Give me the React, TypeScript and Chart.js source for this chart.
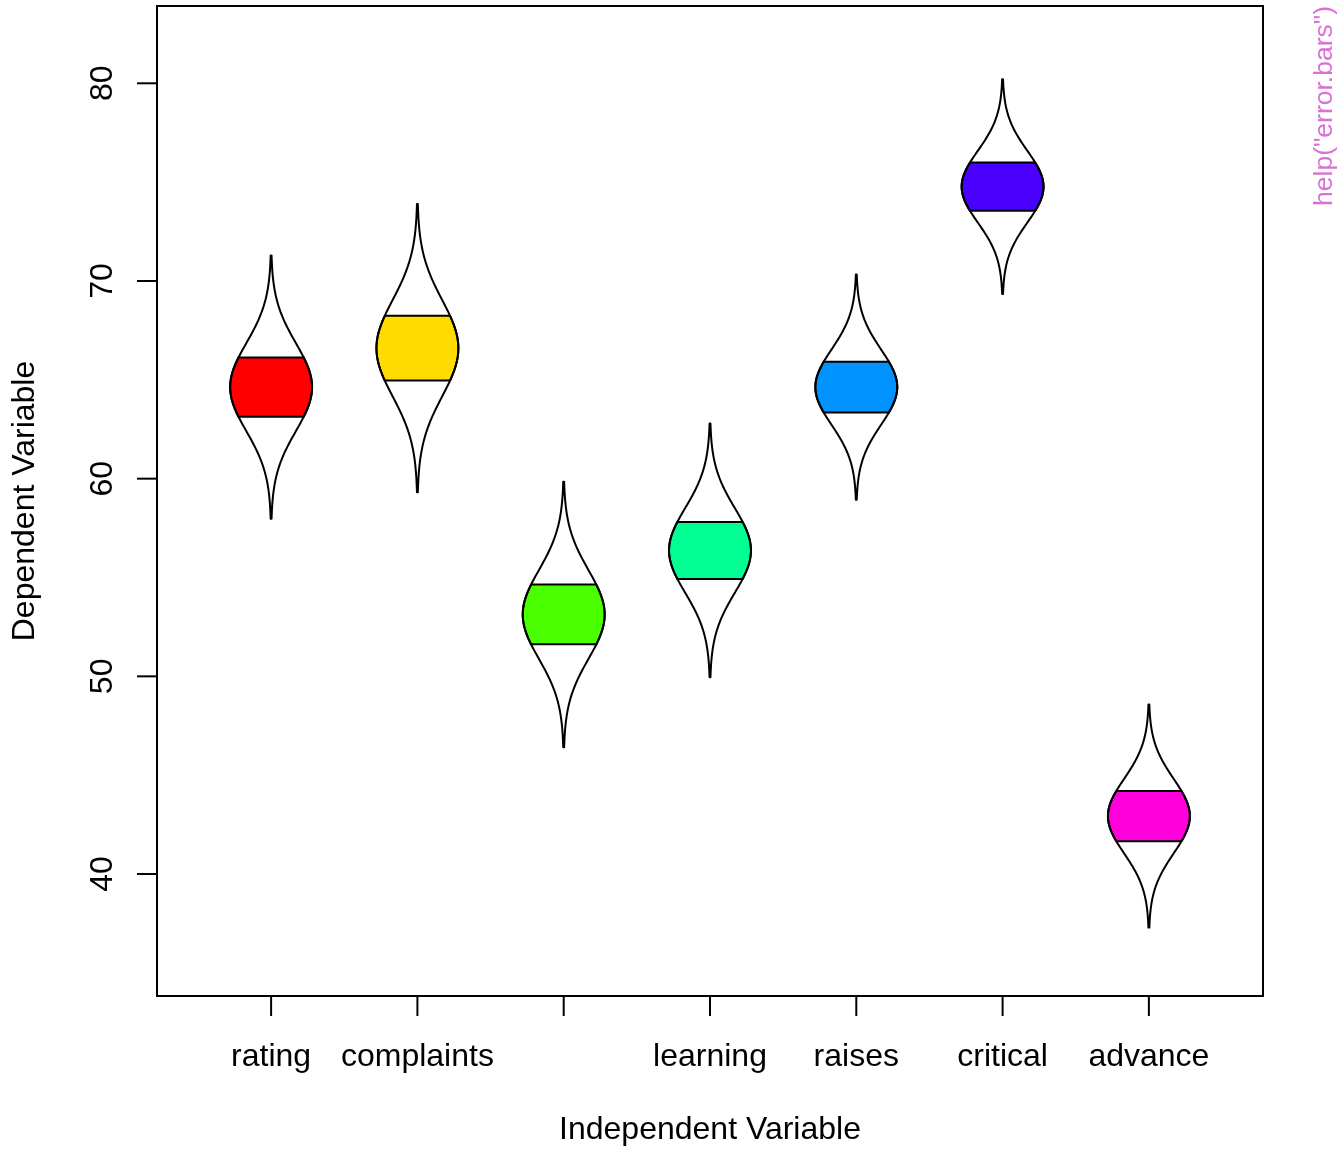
import React, { useEffect, useRef } from "react";
import { Chart, registerables } from "chart.js";

Chart.register(...registerables);

// ---- data ----
const categories = ["rating", "complaints", "privileges", "learning", "raises", "critical", "advance"];
const tickLabels = ["rating", "complaints", "", "learning", "raises", "critical", "advance"];
const means = [64.63, 66.6, 53.13, 56.37, 64.63, 74.77, 42.93];
const standardErrors = [2.22, 2.43, 2.24, 2.14, 1.9, 1.81, 1.88];
const eyeColors = ["#FF0000", "#FFDB00", "#49FF00", "#00FF92", "#0092FF", "#4900FF", "#FF00DB"];
const yTicks = [40, 50, 60, 70, 80];
const xTitle = "Independent Variable";
const yTitle = "Dependent Variable";
const helpText = 'help("error.bars")';

const FONT = '"Liberation Sans", Arial, Helvetica, sans-serif';
const EYE_HALF_WIDTH = 0.28; // x units
const EYE_RANGE = 3; // +/- SE extent of eye
const SHADE_Z = 0.674; // shaded band

const catsEyePlugin = {
  id: "catsEye",
  afterDatasetsDraw(chart: any) {
    const ctx = chart.ctx as CanvasRenderingContext2D;
    const xs = chart.scales.x;
    const ys = chart.scales.y;
    const data = chart.data.datasets[0].data as { x: number; y: number }[];
    ctx.save();
    data.forEach((pt, i) => {
      const se = standardErrors[i];
      const outline = (zmax: number) => {
        const pts: [number, number][] = [];
        const steps = 120;
        for (let k = 0; k <= steps; k++) {
          const z = -zmax + (2 * zmax * k) / steps;
          const w = EYE_HALF_WIDTH * Math.exp((-z * z) / 2);
          pts.push([xs.getPixelForValue(pt.x + w), ys.getPixelForValue(pt.y + z * se)]);
        }
        for (let k = steps; k >= 0; k--) {
          const z = -zmax + (2 * zmax * k) / steps;
          const w = EYE_HALF_WIDTH * Math.exp((-z * z) / 2);
          pts.push([xs.getPixelForValue(pt.x - w), ys.getPixelForValue(pt.y + z * se)]);
        }
        return pts;
      };
      const band = outline(SHADE_Z);
      ctx.beginPath();
      band.forEach(([px, py], j) => (j === 0 ? ctx.moveTo(px, py) : ctx.lineTo(px, py)));
      ctx.closePath();
      ctx.fillStyle = eyeColors[i];
      ctx.fill();
      ctx.lineWidth = 2;
      ctx.strokeStyle = "#000";
      ctx.stroke();
      const eye = outline(EYE_RANGE);
      ctx.beginPath();
      eye.forEach(([px, py], j) => (j === 0 ? ctx.moveTo(px, py) : ctx.lineTo(px, py)));
      ctx.closePath();
      ctx.lineJoin = "round";
      ctx.stroke();
    });
    ctx.restore();
  },
  afterDraw(chart: any) {
    const ctx = chart.ctx as CanvasRenderingContext2D;
    const xs = chart.scales.x;
    const ys = chart.scales.y;
    const a = chart.chartArea;
    ctx.save();
    ctx.strokeStyle = "#000";
    ctx.lineWidth = 2;
    ctx.strokeRect(a.left, a.top, a.right - a.left, a.bottom - a.top);
    ctx.fillStyle = "#000";
    ctx.font = `32px ${FONT}`;
    ctx.textAlign = "center";
    ctx.textBaseline = "alphabetic";
    tickLabels.forEach((lab, i) => {
      const px = xs.getPixelForValue(i + 1);
      ctx.beginPath();
      ctx.moveTo(px, a.bottom);
      ctx.lineTo(px, a.bottom + 20);
      ctx.stroke();
      if (lab) ctx.fillText(lab, px, 1066);
    });
    yTicks.forEach((v) => {
      const py = ys.getPixelForValue(v);
      ctx.beginPath();
      ctx.moveTo(a.left, py);
      ctx.lineTo(a.left - 20, py);
      ctx.stroke();
      ctx.save();
      ctx.translate(112, py);
      ctx.rotate(-Math.PI / 2);
      ctx.fillText(String(v), 0, 0);
      ctx.restore();
    });
    ctx.fillText(xTitle, (a.left + a.right) / 2, 1139);
    ctx.save();
    ctx.translate(34, (a.top + a.bottom) / 2);
    ctx.rotate(-Math.PI / 2);
    ctx.fillText(yTitle, 0, 0);
    ctx.restore();
    ctx.save();
    ctx.translate(1332, 6);
    ctx.rotate(-Math.PI / 2);
    ctx.textAlign = "right";
    ctx.font = `26.5px ${FONT}`;
    ctx.fillStyle = "orchid";
    ctx.fillText(helpText, 0, 0);
    ctx.restore();
    ctx.restore();
  },
};

export default function App() {
  const ref = useRef<HTMLCanvasElement | null>(null);
  useEffect(() => {
    if (!ref.current) return;
    const chart = new Chart(ref.current, {
      type: "scatter",
      data: {
        labels: categories,
        datasets: [
          {
            label: "means",
            data: means.map((m, i) => ({ x: i + 1, y: m })),
            pointRadius: 0,
            pointHoverRadius: 0,
            showLine: false,
          },
        ],
      },
      options: {
        responsive: false,
        animation: false,
        devicePixelRatio: 1,
        events: [],
        layout: { padding: { left: 157, top: 6, right: 81, bottom: 155 } },
        plugins: { legend: { display: false }, tooltip: { enabled: false }, title: { display: false } },
        scales: {
          x: { type: "linear", min: 0.22, max: 7.78, display: false },
          y: { type: "linear", min: 33.83, max: 83.91, display: false },
        },
      },
      plugins: [catsEyePlugin],
    });
    return () => chart.destroy();
  }, []);
  return (
    <div style={{ position: "fixed", left: 0, top: 0, width: 1344, height: 1151, background: "#fff" }}>
      <canvas ref={ref} width={1344} height={1151} style={{ width: 1344, height: 1151, display: "block" }} />
    </div>
  );
}
